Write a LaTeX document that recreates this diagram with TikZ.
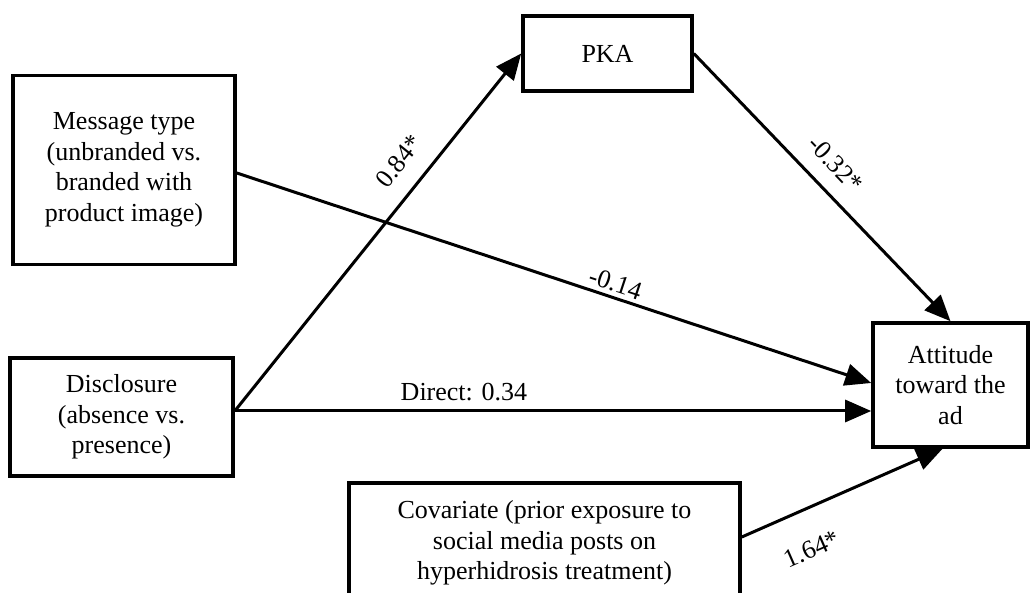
\documentclass[tikz,border=0pt]{standalone}
\usepackage{fontspec}
\setmainfont{Liberation Serif}
\usetikzlibrary{arrows.meta,calc}
\begin{document}
\begin{tikzpicture}[x=1pt,y=1pt,
  box/.style={draw=black,line width=3.6pt,inner sep=0pt,align=center,
    font=\fontsize{26}{30.5}\selectfont},
  conn/.style={line width=3pt,-{Triangle[length=26pt,width=22pt]}},
  lbl/.style={font=\fontsize{26}{30}\selectfont,inner sep=2pt}]
\useasboundingbox (0,0) rectangle (1031,592);
\clip (0,0) rectangle (1031,592);
% boxes (centers in y-up coordinates)
\node[box,minimum width=222pt,minimum height=189pt] (msg) at (124,422)
  {Message type\\(unbranded vs.\\branded with\\product image)};
\node[box,minimum width=169pt,minimum height=75pt] (pka) at (607.5,538.5) {PKA};
\node[box,minimum width=223pt,minimum height=118pt] (disc) at (121.5,175)
  {Disclosure\\(absence vs.\\presence)};
\node[box,minimum width=155pt,minimum height=124pt] (att) at (950.5,207)
  {Attitude\\toward the\\ad};
\node[box,minimum width=391pt,minimum height=120pt] (cov) at (544.5,49)
  {Covariate (prior exposure to\\social media posts on\\hyperhidrosis treatment)};
% connectors
\coordinate (dout) at ($(disc.east)+(0,6)$);
\draw[conn] (dout) -- node[lbl,pos=0.65,sloped,anchor=center,yshift=28pt]{0.84*} (pka.west);
\draw[conn] (pka.east) -- node[lbl,pos=0.48,sloped,anchor=center,yshift=26pt]{-0.32*} (att.north);
\draw[conn] ([yshift=-3pt]msg.east) -- node[lbl,pos=0.59,sloped,anchor=center,yshift=14pt]{-0.14} ($(att.west)+(0,2)$);
\draw[conn] (dout) -- node[lbl,pos=0.36,anchor=center,yshift=19pt]{Direct: 0.34} (dout -| att.west);
\draw[conn] ($(cov.east)+(0,6)$) -- node[lbl,pos=0.27,sloped,anchor=center,yshift=-39pt]{1.64*} ($(att.south)+(-8,0)$);
\end{tikzpicture}
\end{document}
